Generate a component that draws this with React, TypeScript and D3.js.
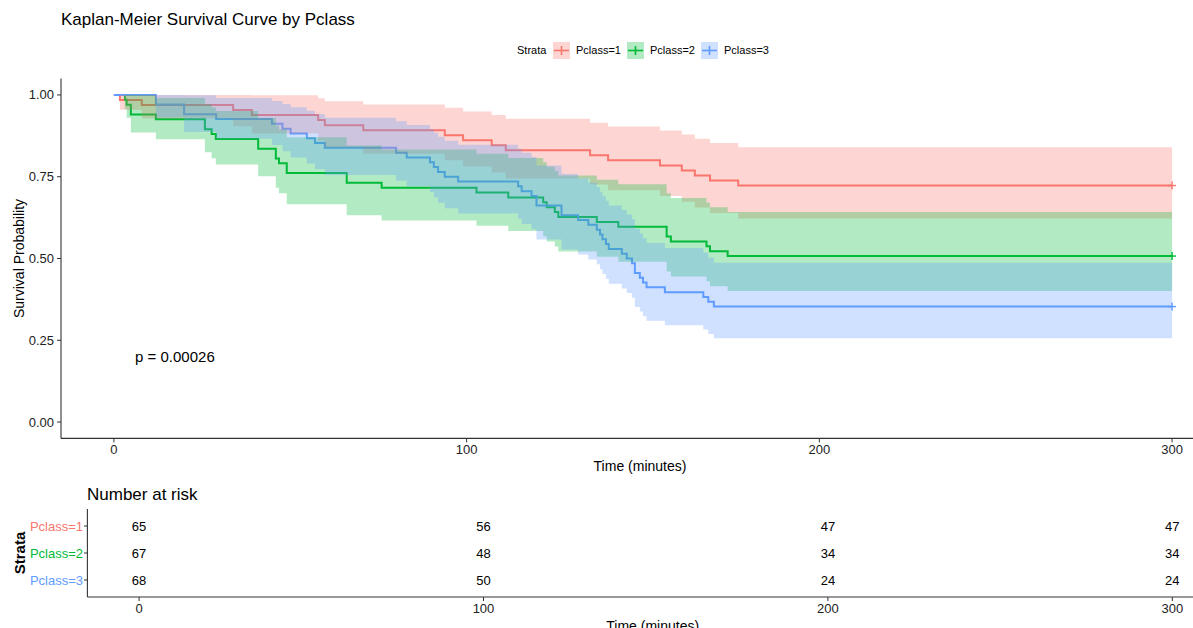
import React from 'react';
import * as d3 from 'd3';

// strata and colours (ggplot default hue)
const strata = ['Pclass=1', 'Pclass=2', 'Pclass=3'];
const colors = ['#F8766D', '#00BA38', '#619CFF'];
const nSubjects = [65, 67, 68];

const deaths1 = [1.7, 7.9, 33.8, 39.1, 57.9, 59.8, 70.7, 93.8, 99.0, 107.1, 111.1, 135.0, 140.1, 154.8, 161.0, 164.7, 169.0, 177.0];
const deaths2 = [3.1, 3.6, 4.8, 4.8, 11.9, 25.8, 25.8, 27.7, 28.9, 40.9, 40.9, 45.9, 45.9, 46.8, 49.0, 49.0, 66.0, 66.0, 75.9,
  102.8, 111.8, 121.7, 122.7, 125.0, 126.0, 136.9, 143.0, 156.7, 156.7, 157.9, 168.0, 169.0, 174.0];
const deaths3 = [11.9, 11.9, 19.9, 19.9, 29.0, 44.8, 47.8, 50.1, 54.7, 57.0, 59.8, 80.0, 83.0, 89.6, 90.7, 91.9, 93.8, 97.6,
  114.6, 115.6, 118.4, 119.8, 119.8, 126.9, 126.9, 131.6, 134.5, 136.9, 137.8, 138.5, 139.5, 140.3, 144.0, 145.4, 146.9,
  147.7, 147.7, 149.1, 150.0, 151.0, 156.2, 167.1, 168.5, 170.1];
const deathTimes = [deaths1, deaths2, deaths3];
const censorTime = 300;

const xTicks = [0, 100, 200, 300];
const yTicks = [0, 0.25, 0.5, 0.75, 1];
const riskTimes = [0, 100, 200, 300];
const risk1 = [65, 56, 47, 47];
const risk2 = [67, 48, 34, 34];
const risk3 = [68, 50, 24, 24];
const riskRows = [risk1, risk2, risk3];
const pValue = 'p = 0.00026';

type Pt = { t: number; s: number; lo: number; hi: number };

// Kaplan-Meier with Greenwood log-type CI (as survfit)
function km(n: number, deaths: number[], tEnd: number): Pt[] {
  const counts = d3.rollups(deaths, v => v.length, d => d).sort((a, b) => a[0] - b[0]);
  const pts: Pt[] = [{ t: 0, s: 1, lo: 1, hi: 1 }];
  let atRisk = n, s = 1, cum = 0;
  counts.forEach(([t, d]) => {
    s *= (atRisk - d) / atRisk;
    cum += d / (atRisk * (atRisk - d));
    const se = Math.sqrt(cum);
    pts.push({ t, s, lo: s * Math.exp(-1.96 * se), hi: Math.min(1, s * Math.exp(1.96 * se)) });
    atRisk -= d;
  });
  const last = pts[pts.length - 1];
  pts.push({ ...last, t: tEnd });
  return pts;
}

const font = '"Liberation Sans", Arial, sans-serif';

export default function App() {
  const W = 1193, H = 628;
  const x = d3.scaleLinear().domain([-15, 315]).range([61, 1225]);
  const y = d3.scaleLinear().domain([-0.05, 1.05]).range([438.4, 78.6]);
  const xr = d3.scaleLinear().domain([-15, 315]).range([87.4, 1224]);
  const yr = d3.scalePoint().domain(strata).range([526, 580]);

  const curves = deathTimes.map((d, i) => km(nSubjects[i], d, censorTime));
  const line = d3.line<Pt>().x(d => x(d.t)).y(d => y(d.s)).curve(d3.curveStepAfter);
  const area = d3.area<Pt>().x(d => x(d.t)).y0(d => y(d.lo)).y1(d => y(d.hi)).curve(d3.curveStepAfter);

  const axisCol = '#333333';

  return (
    <svg width={W} height={H} style={{ position: 'absolute', left: 0, top: 0, background: '#fff' }} fontFamily={font}>
      <text x={61} y={25} fontSize={17} fill="#000">Kaplan-Meier Survival Curve by Pclass</text>

      {/* legend */}
      <g fontSize={11} fill="#000">
        <text x={517} y={54}>Strata</text>
        {strata.map((s, i) => {
          const lx = [553, 627, 701][i];
          return (
            <g key={s}>
              <rect x={lx} y={42} width={17} height={17} fill={colors[i]} fillOpacity={0.3} />
              <line x1={lx + 1} x2={lx + 16} y1={50.5} y2={50.5} stroke={colors[i]} strokeWidth={1.6} />
              <line x1={lx + 8.5} x2={lx + 8.5} y1={46} y2={55} stroke={colors[i]} strokeWidth={1.6} />
              <text x={lx + 23} y={54}>{s}</text>
            </g>
          );
        })}
      </g>

      {/* curves, then ribbons, then censor marks */}
      {curves.map((c, i) => (
        <path key={'l' + i} d={line(c) || ''} fill="none" stroke={colors[i]} strokeWidth={2} />
      ))}
      {curves.map((c, i) => (
        <path key={'a' + i} d={area(c) || ''} fill={colors[i]} fillOpacity={0.3} stroke="none" />
      ))}
      {curves.map((c, i) => {
        const e = c[c.length - 1];
        return (
          <g key={'c' + i} stroke={colors[i]} strokeWidth={1.4}>
            <line x1={x(e.t) - 4} x2={x(e.t) + 4} y1={y(e.s)} y2={y(e.s)} />
            <line x1={x(e.t)} x2={x(e.t)} y1={y(e.s) - 4} y2={y(e.s) + 4} />
          </g>
        );
      })}

      {/* main axes */}
      <line x1={61} x2={61} y1={78.6} y2={438.4} stroke={axisCol} strokeWidth={1.1} />
      <line x1={61} x2={1225} y1={438.4} y2={438.4} stroke={axisCol} strokeWidth={1.1} />
      {yTicks.map(v => (
        <g key={v}>
          <line x1={57} x2={61} y1={y(v)} y2={y(v)} stroke={axisCol} />
          <text x={54} y={y(v) + 4.5} textAnchor="end" fontSize={13} fill="#222">{v.toFixed(2)}</text>
        </g>
      ))}
      {xTicks.map(v => (
        <g key={v}>
          <line x1={x(v)} x2={x(v)} y1={438.4} y2={442.4} stroke={axisCol} />
          <text x={x(v)} y={454} textAnchor="middle" fontSize={13} fill="#222">{v}</text>
        </g>
      ))}
      <text x={(61 + 1225) / 2 - 3} y={471} textAnchor="middle" fontSize={14} fill="#000">Time (minutes)</text>
      <text transform={`translate(24,${(78.6 + 438.4) / 2}) rotate(-90)`} textAnchor="middle" fontSize={14} fill="#000">Survival Probability</text>
      <text x={x(6)} y={y(0.2) + 5} fontSize={15} fill="#000">{pValue}</text>

      {/* risk table */}
      <text x={87} y={500} fontSize={17} fill="#000">Number at risk</text>
      <line x1={87.4} x2={87.4} y1={509} y2={597} stroke={axisCol} strokeWidth={1.1} />
      <line x1={87.4} x2={1224} y1={597} y2={597} stroke={axisCol} strokeWidth={1.1} />
      {strata.map((s, i) => (
        <g key={s}>
          <line x1={84} x2={87.4} y1={yr(s)!} y2={yr(s)!} stroke={axisCol} />
          <text x={83} y={(yr(s) as number) + 4.5} textAnchor="end" fontSize={13} fill={colors[i]}>{s}</text>
          {riskTimes.map((t, j) => (
            <text key={t} x={xr(t)} y={(yr(s) as number) + 4.5} textAnchor="middle" fontSize={13} fill="#000">{riskRows[i][j]}</text>
          ))}
        </g>
      ))}
      {xTicks.map(v => (
        <g key={'r' + v}>
          <line x1={xr(v)} x2={xr(v)} y1={597} y2={601} stroke={axisCol} />
          <text x={xr(v)} y={613} textAnchor="middle" fontSize={13} fill="#222">{v}</text>
        </g>
      ))}
      <text transform={`translate(25,553) rotate(-90)`} textAnchor="middle" fontSize={15} fontWeight="bold" fill="#000">Strata</text>
      <text x={(87.4 + 1224) / 2 - 3} y={631} textAnchor="middle" fontSize={14} fill="#000">Time (minutes)</text>
    </svg>
  );
}
